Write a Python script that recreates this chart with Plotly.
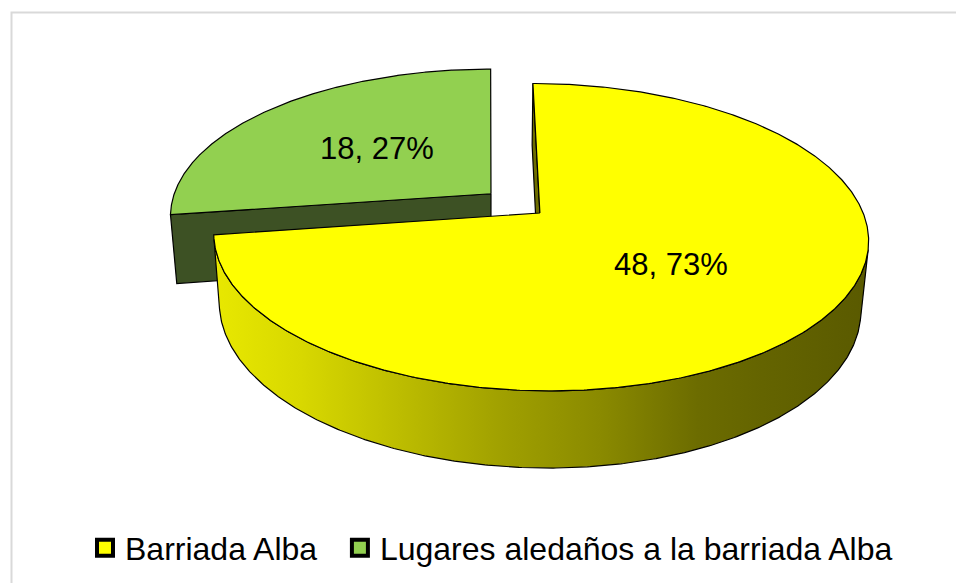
import numpy as np
import plotly.graph_objects as go

# ---- data ----
categories = ["Barriada Alba", "Lugares aledaños a la barriada Alba"]
values = [48, 18]
pulls = [0.0, 0.2]
top_colors = ["#FFFF00", "#92D050"]
side_colors = ["#6E6E00", "#3D5124"]
wall_gradients = [
    [[0.0, "#E8E800"], [0.13, "#D8D800"], [0.28, "#BDBD00"], [0.44, "#A0A000"],
     [0.59, "#8A8A00"], [0.74, "#6C6C00"], [0.84, "#646400"], [1.0, "#5A5A00"]],
    None,
]

# ---- 3D projection (camera) constants ----
F = 1820.0
D = 5.63
SPHI = 0.4637
CPHI = np.sqrt(1 - SPHI ** 2)
X0 = -0.159
CX, CY = 488.5, 213.0
H = 0.245
CAM = np.array([X0, -D * CPHI, D * SPHI])


def proj(X, Y, Z):
    X = np.asarray(X, float)
    Y = np.asarray(Y, float)
    Z = np.asarray(Z, float)
    depth = D + Y * CPHI - Z * SPHI
    up = Y * SPHI + Z * CPHI
    return CX + F * (X - X0) / depth, CY - F * up / depth


total = sum(values)
fracs = [v / total for v in values]
start = 90.0
slices = []
a = start
for i, f in enumerate(fracs):
    a0 = a
    a1 = a - 360.0 * f  # clockwise
    mid = np.radians((a0 + a1) / 2)
    ox, oy = pulls[i] * np.cos(mid), pulls[i] * np.sin(mid)
    slices.append(dict(i=i, a0=a0, a1=a1, mid=mid, ox=ox, oy=oy))
    a = a1

fig = go.Figure()


def add_poly(xs, ys, color=None, gradient=None, gx=None):
    kw = dict(x=list(xs) + [xs[0]], y=list(ys) + [ys[0]], mode="lines", fill="toself",
              line=dict(color="black", width=1.2), hoverinfo="skip", showlegend=False)
    if gradient is not None:
        kw["fillgradient"] = dict(type="horizontal", colorscale=gradient, start=gx[0], stop=gx[1])
    else:
        kw["fillcolor"] = color
    fig.add_trace(go.Scatter(**kw))


# draw farther slices first
order = sorted(slices, key=lambda s: -(s["oy"] + 0.5 * np.sin(s["mid"])))
for s in order:
    i = s["i"]
    ox, oy = s["ox"], s["oy"]
    th = np.radians(np.linspace(s["a0"], s["a1"], 600))
    # radial faces
    for ang, sign in ((s["a0"], 1), (s["a1"], -1)):
        r = np.radians(ang)
        n = np.array([np.cos(r + sign * np.pi / 2), np.sin(r + sign * np.pi / 2), 0])
        p = np.array([ox + 0.5 * np.cos(r), oy + 0.5 * np.sin(r), -H / 2])
        if np.dot(n, CAM - p) > 0:
            Xs = [ox, ox + np.cos(r), ox + np.cos(r), ox]
            Ys = [oy, oy + np.sin(r), oy + np.sin(r), oy]
            Zs = [0, 0, -H, -H]
            px, py = proj(Xs, Ys, Zs)
            add_poly(px, py, color=side_colors[i])
    # outer wall (visible runs)
    Xa = ox + np.cos(th)
    Ya = oy + np.sin(th)
    vis = np.cos(th) * (CAM[0] - Xa) + np.sin(th) * (CAM[1] - Ya) > 0
    idx = np.where(vis)[0]
    if len(idx):
        runs = np.split(idx, np.where(np.diff(idx) > 1)[0] + 1)
        for run in runs:
            tx, ty = proj(Xa[run], Ya[run], np.zeros(len(run)))
            bx, by = proj(Xa[run], Ya[run], -H * np.ones(len(run)))
            xs = np.concatenate([tx, bx[::-1]])
            ys = np.concatenate([ty, by[::-1]])
            if wall_gradients[i] is not None:
                add_poly(xs, ys, gradient=wall_gradients[i], gx=(216, 867))
            else:
                add_poly(xs, ys, color=side_colors[i])
    # top face
    tx, ty = proj(np.r_[ox, Xa], np.r_[oy, Ya], np.zeros(len(th) + 1))
    add_poly(tx, ty, color=top_colors[i])

# data labels
for s in slices:
    i = s["i"]
    lx, ly = proj(s["ox"] + 0.5 * np.cos(s["mid"]), s["oy"] + 0.5 * np.sin(s["mid"]), 0)
    pct = round(100 * values[i] / total)
    fig.add_annotation(x=float(lx), y=float(ly), text=f"{values[i]}, {pct}%", showarrow=False,
                       font=dict(family="Liberation Sans, Arial", size=31, color="black"))

# legend entries (non-breaking spaces widen the gap between entries)
for i, name in enumerate(categories):
    label = name + ("\u00a0\u00a0" if i < len(categories) - 1 else "")
    fig.add_trace(go.Scatter(x=[None], y=[None], mode="markers", name=label,
                             marker=dict(symbol="square", size=16, color=top_colors[i],
                                         line=dict(color="black", width=4))))

# chart frame
fig.add_shape(type="rect", xref="x", yref="y", x0=11.5, y0=12.5, x1=1000, y1=700,
              line=dict(color="#D9D9D9", width=2), fillcolor="rgba(0,0,0,0)", layer="below")

fig.update_layout(
    width=956, height=583,
    margin=dict(l=0, r=0, t=0, b=0),
    paper_bgcolor="white", plot_bgcolor="white",
    xaxis=dict(range=[0, 956], visible=False, fixedrange=True),
    yaxis=dict(range=[583, 0], visible=False, fixedrange=True),
    showlegend=True,
    legend=dict(orientation="h", x=85 / 956, xanchor="left", y=0.06, yanchor="middle",
                font=dict(family="Liberation Sans, Arial", size=32, color="black"),
                itemclick=False, itemdoubleclick=False),
    font=dict(family="Liberation Sans, Arial"),
)

fig.write_html("out.html", config={"displayModeBar": False},
               post_script="document.body.style.margin='0';document.body.style.overflow='hidden';")
